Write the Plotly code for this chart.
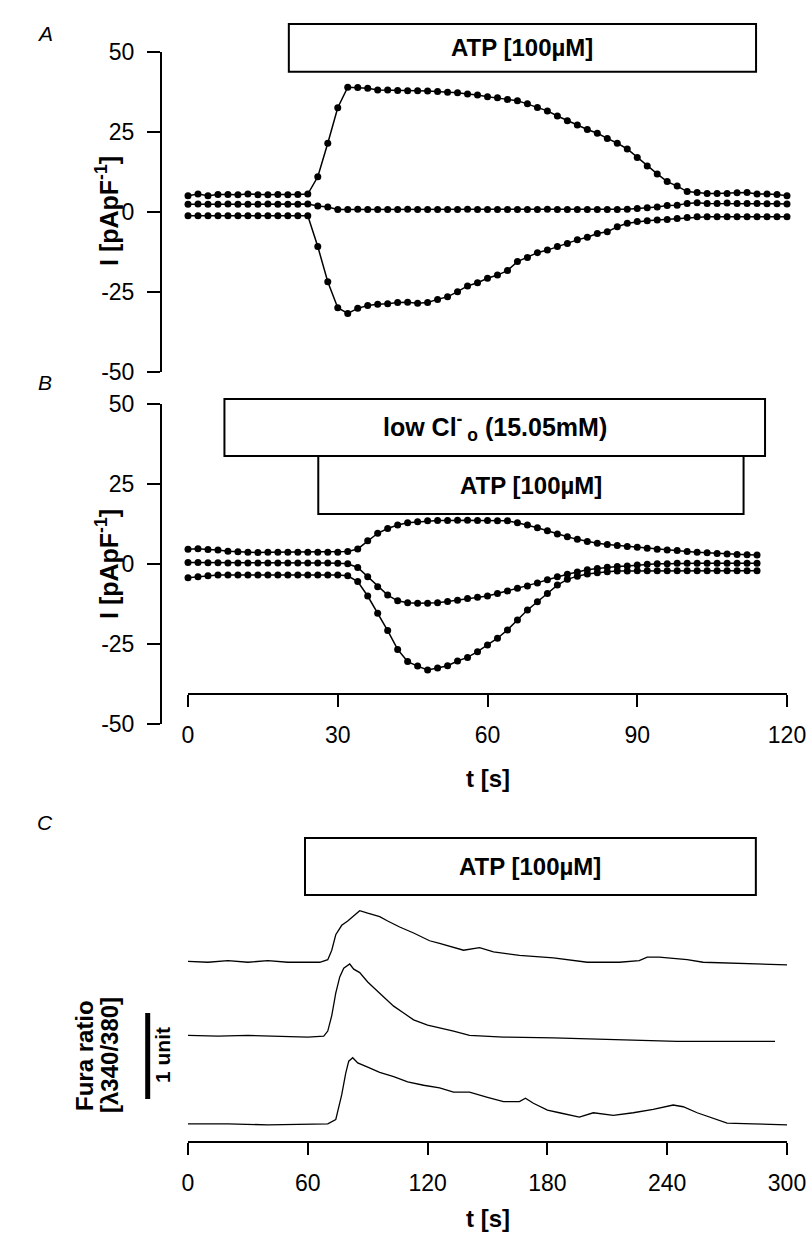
import plotly.graph_objects as go

W, H = 812, 1240
FONT = "Liberation Sans"

# ---- panel A: current density, ATP alone, sampled every 2 s ----
t_a = list(range(0, 122, 2))
a_top = [5.0, 5.5, 5.0, 5.4, 5.4, 5.3, 5.5, 5.3, 5.3, 5.4, 5.3, 5.4, 5.5,
         10.9, 21.4, 32.5, 38.9, 38.8, 38.6, 38.0, 38.0, 37.9, 37.8, 37.8,
         37.7, 37.6, 37.3,
         37.2, 36.8, 36.5, 35.9, 35.6, 35.1, 34.7, 33.7, 32.6, 31.5, 29.9, 28.4,
         27.1, 25.7, 24.5, 22.9, 21.4, 19.6, 16.9, 14.3, 11.8, 9.4, 8.0, 6.3,
         6.0, 5.7, 5.7, 5.7, 5.9, 6.0, 5.5, 5.5, 5.4, 5.0]
a_mid = [2.3, 2.4, 2.3, 2.3, 2.4, 2.3, 2.3, 2.3, 2.4, 2.3, 2.3, 2.3, 2.4,
         1.8, 1.5] + [0.7, 0.7, 0.8, 0.7, 0.7, 0.7, 0.7, 0.8, 0.7, 0.7,
                      0.7, 0.7, 0.7, 0.8, 0.7, 0.7, 0.7, 0.7, 0.7, 0.7,
                      0.7, 0.8, 0.7, 0.7, 0.7, 0.7, 0.7, 0.7, 0.7] + \
        [0.8, 1.0, 1.2, 1.5, 1.9, 2.0, 2.6, 2.8,
         2.6, 2.6, 2.7, 2.6, 2.6, 2.6, 2.5, 2.5, 2.4]
a_bot = [-1.3] * 13 + \
        [-10.9, -21.9, -30.0, -31.8, -30.2, -29.3, -28.9, -28.8, -28.4, -28.3, -28.6,
         -28.4, -27.4, -26.6, -25.0, -23.2, -22.2, -20.8, -19.8, -18.4, -15.6,
         -14.3, -12.8, -12.0, -10.9, -9.9, -8.8, -8.0, -6.8, -6.3, -4.7, -3.6,
         -3.1, -2.8, -2.6, -2.4, -2.1, -1.8] + [-1.6] * 10

# ---- panel B: low Cl-o then ATP ----
t_b = list(range(0, 116, 2))
b_top = [4.6, 4.8, 4.5, 4.4, 4.0, 3.8, 3.7, 3.6, 3.7, 3.7, 3.7, 3.7, 3.7, 3.7, 3.7, 3.7,
         3.9, 4.7, 7.3, 9.6, 11.1, 12.2, 12.9, 13.2,
         13.5, 13.6, 13.6, 13.7, 13.7, 13.6, 13.6, 13.5, 13.5,
         12.9, 12.2, 11.3, 10.4, 9.4, 8.5, 7.7, 7.0, 6.5, 6.1, 5.8, 5.5, 5.2,
         4.9, 4.6, 4.4, 4.2, 3.9, 3.7, 3.5, 3.3, 3.1, 3.0, 2.9, 2.8]
b_mid = [0.5, 0.5, 0.4, 0.4, 0.3, 0.3, 0.3, 0.3, 0.3, 0.3, 0.3, 0.3, 0.3, 0.3, 0.3, 0.2, 0.1,
         -1.1, -4.0, -7.1, -9.7, -11.5, -12.1, -12.3,
         -12.3, -12.1, -11.7, -11.3, -10.8, -10.4, -10.0, -9.2, -8.4, -7.6, -6.9,
         -5.9, -4.9, -4.0, -3.2, -2.5, -1.8, -1.4, -1.0, -0.8, -0.6, -0.3, -0.1,
         0.1, 0.1, 0.2, 0.2, 0.2, 0.2, 0.2, 0.2, 0.2, 0.2, 0.2]
b_bot = [-4.3, -4.0, -3.7] + [-3.4] * 13 + [-3.7,
         -5.5, -10.0, -15.4, -20.8, -26.7, -30.5, -31.9,
         -33.1, -32.5, -31.8, -30.3, -29.2, -27.4, -25.3, -23.2, -20.6, -17.5,
         -14.4, -11.8, -9.2, -6.6, -4.8, -3.8, -3.1, -2.7, -2.4,
         -2.2, -2.2] + [-2.1] * 13

# ---- panel C: Fura-2 ratio traces (offset, in ratio units) ----
t_c1 = [0, 10, 20, 30, 40, 50, 60, 66, 70, 72, 74, 77, 80, 83, 86, 90, 96, 100, 106,
        113, 121, 126, 133, 138, 146, 153, 166, 183, 200, 216, 226, 230, 236, 250,
        258, 275, 290, 300]
c1 = [2.10, 2.09, 2.11, 2.09, 2.11, 2.09, 2.09, 2.09, 2.12, 2.23, 2.41, 2.52, 2.57,
      2.63, 2.69, 2.66, 2.62, 2.57, 2.50, 2.43, 2.34, 2.31, 2.26, 2.23, 2.26, 2.21,
      2.17, 2.14, 2.09, 2.09, 2.11, 2.15, 2.15, 2.12, 2.09, 2.08, 2.07, 2.06]
t_c2 = [0, 15, 30, 45, 60, 68, 70, 72, 74, 76, 78, 81, 83, 86, 90, 96, 103, 108, 113,
        120, 126, 133, 141, 158, 183, 200, 223, 245, 266, 294]
c2 = [1.24, 1.23, 1.24, 1.23, 1.22, 1.23, 1.29, 1.47, 1.73, 1.92, 2.02, 2.07, 2.01,
      1.97, 1.86, 1.73, 1.58, 1.50, 1.42, 1.36, 1.33, 1.29, 1.24, 1.22, 1.21, 1.20,
      1.19, 1.17, 1.17, 1.17]
t_c3 = [0, 20, 40, 60, 70, 74, 77, 79, 80.5, 82.5, 85, 90, 96, 103, 110, 118, 126,
        133, 141, 150, 158, 166, 169, 173, 180, 186, 196, 203, 213, 223, 233, 243,
        248, 255, 263, 270, 283, 300]
c3 = [0.21, 0.21, 0.20, 0.21, 0.21, 0.26, 0.55, 0.80, 0.94, 0.98, 0.92, 0.87, 0.81,
      0.76, 0.70, 0.66, 0.63, 0.58, 0.58, 0.52, 0.47, 0.47, 0.51, 0.45, 0.37, 0.34,
      0.29, 0.34, 0.31, 0.34, 0.38, 0.43, 0.41, 0.34, 0.28, 0.22, 0.21, 0.20]

# tick values
i_ticks = [-50, -25, 0, 25, 50]
tb_ticks = [0, 30, 60, 90, 120]
tc_ticks = [0, 60, 120, 180, 240, 300]

# stimulus bars: (start s, end s, label, font size)
bars_a = [(20.2, 113.8, "ATP [100µM]", 24)]
bars_b = [(7.3, 115.6, "low Cl<sup>-</sup><sub> o</sub> (15.05mM)", 25),
          (26.1, 111.3, "ATP [100µM]", 24)]
bars_c = [(58.6, 284.4, "ATP [100µM]", 24)]


def fx(px):
    return px / W


def fy(py):
    return 1 - py / H


fig = go.Figure()

dots = dict(mode="lines+markers", line=dict(color="black", width=1.5),
            marker=dict(color="black", size=7), cliponaxis=False,
            showlegend=False, hoverinfo="skip")
for ys in (a_top, a_mid, a_bot):
    fig.add_trace(go.Scatter(x=t_a, y=ys, xaxis="x", yaxis="y", **dots))
for ys in (b_top, b_mid, b_bot):
    fig.add_trace(go.Scatter(x=t_b, y=ys, xaxis="x2", yaxis="y2", **dots))
for ts, ys in ((t_c1, c1), (t_c2, c2), (t_c3, c3)):
    fig.add_trace(go.Scatter(x=ts, y=ys, xaxis="x3", yaxis="y3", mode="lines",
                             line=dict(color="black", width=1.3),
                             showlegend=False, hoverinfo="skip"))

tickfont = dict(family=FONT, size=23, color="black")
xdom = [fx(188), fx(787)]
yax = dict(range=[-50, 50], tickvals=i_ticks, ticktext=[str(v) for v in i_ticks],
           showline=True, linecolor="black", linewidth=2, ticks="outside",
           ticklen=13, tickwidth=1.5, tickcolor="black", showgrid=False,
           zeroline=False, tickfont=tickfont, anchor="free", position=fx(161),
           ticklabelstandoff=8, automargin=False)
xax = dict(showline=True, linecolor="black", linewidth=2, ticks="outside",
           ticklen=12, tickwidth=1.5, tickcolor="black", showgrid=False,
           zeroline=False, tickfont=tickfont, anchor="free", domain=xdom,
           ticklabelstandoff=8, automargin=False)

fig.update_layout(
    width=W, height=H, margin=dict(l=0, r=0, t=0, b=0, autoexpand=False),
    paper_bgcolor="white", plot_bgcolor="white",
    xaxis=dict(domain=xdom, range=[0, 120], visible=False, anchor="y",
               automargin=False),
    yaxis=dict(domain=[fy(371.7), fy(51.7)], **yax),
    xaxis2=dict(range=[0, 120], tickvals=tb_ticks, position=fy(694), **xax),
    yaxis2=dict(domain=[fy(724), fy(404)], **yax),
    xaxis3=dict(range=[0, 300], tickvals=tc_ticks, position=fy(1142), **xax),
    yaxis3=dict(domain=[fy(1142), fy(841)], range=[0, 3.5], visible=False,
                anchor="x3", automargin=False),
)


def add_bars(bars, xref, tops, bottoms):
    for (x0, x1, label, size), top, bot in zip(bars, tops, bottoms):
        fig.add_shape(type="rect", xref=xref, yref="paper", x0=x0, x1=x1,
                      y0=fy(bot), y1=fy(top), fillcolor="white",
                      line=dict(color="black", width=2), layer="above")
        fig.add_annotation(xref=xref, yref="paper", x=(x0 + x1) / 2,
                           y=fy((top + bot) / 2), text="<b>%s</b>" % label,
                           showarrow=False, xanchor="center", yanchor="middle",
                           font=dict(family=FONT, size=size, color="black"))


add_bars(bars_a, "x", [24], [71.7])
add_bars(bars_b, "x2", [399, 456], [456, 514])
add_bars(bars_c, "x3", [838], [895])

# scale bar, 1 ratio unit
fig.add_shape(type="line", xref="paper", yref="y3", x0=fx(147.7), x1=fx(147.7),
              y0=0.5, y1=1.5, line=dict(color="black", width=5))


def note(text, px, py, size=23, angle=0, italic=False):
    fig.add_annotation(xref="paper", yref="paper", x=fx(px), y=fy(py),
                       text=text, showarrow=False, textangle=angle,
                       xanchor="center", yanchor="middle",
                       font=dict(family=FONT, size=size, color="black",
                                 style="italic" if italic else "normal"))


note("A", 45, 33, size=21, italic=True)
note("B", 45, 383, size=21, italic=True)
note("C", 45, 822, size=21, italic=True)
note("<b>I [pApF<sup>-1</sup>]</b>", 107, 211, size=25, angle=-90)
note("<b>I [pApF<sup>-1</sup>]</b>", 107, 564, size=25, angle=-90)
note("<b>t [s]</b>", 488, 778, size=24)
note("<b>t [s]</b>", 488, 1218, size=24)
note("<b>Fura ratio</b>", 84, 1056, size=24, angle=-90)
note("<b>[λ340/380]</b>", 109, 1055, size=24, angle=-90)
note("<b>1 unit</b>", 162, 1055, size=21, angle=-90)

# drop the browser's default body margin so the figure fills the window exactly
fig.write_html("out.html", config={"displayModeBar": False},
               post_script="document.body.style.margin='0';"
                           "document.body.style.overflow='hidden';")
